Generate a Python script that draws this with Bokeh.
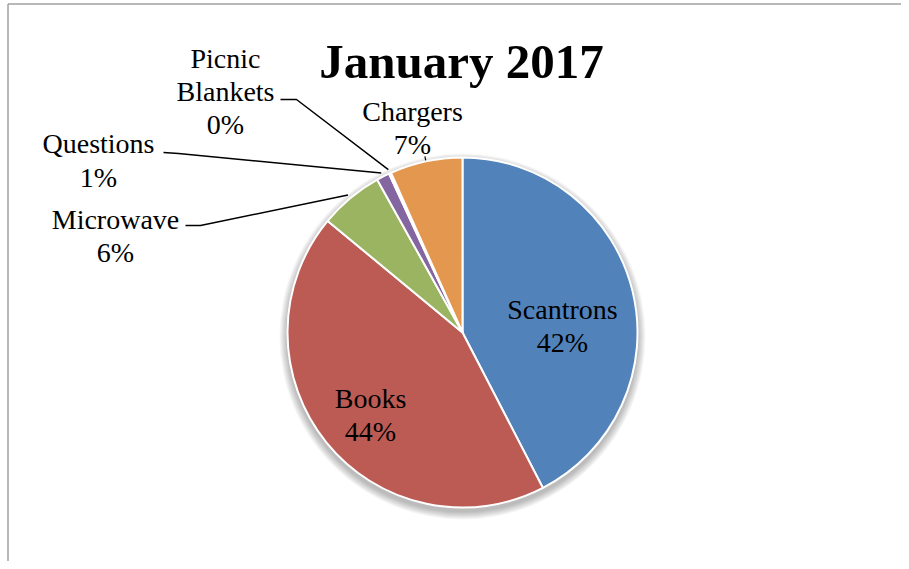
import numpy as np
from bokeh.plotting import figure
from bokeh.models import Range1d
from bokeh.core.properties import value
from bokeh.embed import file_html
from bokeh.resources import INLINE

# ---- data ----
title_text = "January 2017"
categories = ["Scantrons", "Books", "Microwave", "Questions", "Picnic Blankets", "Chargers"]
shares = [42.4, 43.6, 5.9, 1.2, 0.2, 6.7]
colors = ["#5282BA", "#BC5B53", "#9BB461", "#8467A0", "#FFFFFF", "#E4974F"]

# ---- layout ----
W, H = 901, 561
FONT = value("Liberation Serif")


def px(sx, sy):
    """convert picture pixel position to data coordinates"""
    return sx, H - sy


p = figure(width=W, height=H, x_range=Range1d(0, W), y_range=Range1d(0, H),
           output_backend="svg", toolbar_location=None, min_border=0)
p.axis.visible = False
p.grid.visible = False
p.outline_line_color = None
p.background_fill_color = "white"
p.border_fill_color = "white"

# frame lines (chart area border)
bx, by = px(7.5, 3.5)
p.line(x=[bx, bx], y=[0, by], line_color="#A0A0A0", line_width=1.5)
p.line(x=[bx, W], y=[by, by], line_color="#A0A0A0", line_width=1.5)

cx, cy = px(462, 332)
R = 175

# soft shadow
for k in range(1, 9):
    p.circle(x=cx, y=cy - 4, radius=R + k, radius_units="screen",
             fill_color="black", fill_alpha=0.035, line_color=None)

vals = np.array(shares, dtype=float)
frac = vals / vals.sum()
cum_end = np.cumsum(frac)
cum_start = cum_end - frac
start_angle = 90 - 360 * cum_end
end_angle = 90 - 360 * cum_start
mid = np.radians(90 - 360 * (cum_start + cum_end) / 2)

p.wedge(x=cx, y=cy, radius=R, radius_units="screen",
        start_angle=list(start_angle), end_angle=list(end_angle),
        start_angle_units="deg", end_angle_units="deg",
        fill_color=colors, line_color="white", line_width=2)

pct = [f"{int(round(v))}%" for v in vals]

# label positions (picture pixels): center x, text line positions
label_pos = {
    "Scantrons": (562, [309, 342]),
    "Books": (370, [398, 431]),
    "Microwave": (115, [219, 252]),
    "Questions": (98, [143, 177]),
    "Picnic Blankets": (225, [58, 91, 124]),
    "Chargers": (412, [111, 144]),
}
xs, ys, ts = [], [], []
for cat, pc in zip(categories, pct):
    sx, lines_y = label_pos[cat]
    words = cat.split(" ") + [pc] if len(lines_y) == 3 else [cat, pc]
    for t, sy in zip(words, lines_y):
        x, y = px(sx, sy)
        xs.append(x); ys.append(y); ts.append(t)

p.text(x=xs, y=ys, text=ts, text_font=FONT, text_font_size="28px",
       text_align="center", text_baseline="alphabetic", text_color="black")

# leader lines
elbows = {
    "Picnic Blankets": [(280, 99), (296, 99)],
    "Questions": [(163, 152), (178, 153)],
    "Microwave": [(185, 225), (200, 225)],
}
for i, cat in enumerate(categories):
    if cat in elbows:
        pts = [px(*e) for e in elbows[cat]]
        ex = cx + (R + 4) * np.cos(mid[i])
        ey = cy + (R + 4) * np.sin(mid[i])
        p.line(x=[q[0] for q in pts] + [ex], y=[q[1] for q in pts] + [ey],
               line_color="black", line_width=1.5)
    if cat == "Chargers":
        p.line(x=[cx + (R + 1) * np.cos(mid[i]), cx + (R + 5) * np.cos(mid[i])],
               y=[cy + (R + 1) * np.sin(mid[i]), cy + (R + 5) * np.sin(mid[i])],
               line_color="black", line_width=1.2)

tx, ty = px(461, 61)
p.text(x=[tx], y=[ty], text=[title_text], text_font=FONT, text_font_size="49px",
       text_font_style="bold", text_align="center", text_baseline="alphabetic",
       text_color="black")

open("out.html", "w").write(file_html(p, INLINE))
